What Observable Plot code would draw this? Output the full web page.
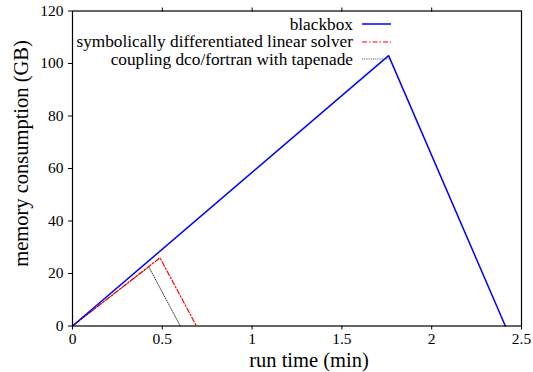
<!DOCTYPE html>
<html><head><meta charset="utf-8">
<script src="https://cdn.jsdelivr.net/npm/d3@7"></script>
<script src="https://cdn.jsdelivr.net/npm/@observablehq/plot@0.6"></script>
<style>
body{margin:0;background:#fff}
#c{position:relative;width:533px;height:372px;font-family:"Liberation Serif",serif}
#c svg, #c svg text{font-family:"Liberation Serif",serif}
#legend{position:absolute;top:15.5px;left:0;width:391px;font-size:17.3px;line-height:17.6px;color:#000}
#legend .row{display:flex;justify-content:flex-end;align-items:center;height:17.6px;white-space:nowrap}
#legend svg{margin-left:9px;flex:none}
</style>
</head><body><div id="c"></div><script>
// series data (run time in minutes, memory in GB)
const seriesNames = ["blackbox", "symbolically differentiated linear solver", "coupling dco/fortran with tapenade"];
const blackboxTime = [0, 1.76, 2.41];
const blackboxMem = [0, 103, 0];
const solverTime = [0, 0.487, 0.69];
const solverMem = [0, 26, 0];
const couplingTime = [0, 0.425, 0.6];
const couplingMem = [0, 22.5, 0];
const xTicks = [0, 0.5, 1, 1.5, 2, 2.5];
const yTicks = [0, 20, 40, 60, 80, 100, 120];
const xLabel = "run time (min)";
const yLabel = "memory consumption (GB)";

const styles = [
  {stroke: "#0000ff", strokeWidth: 1.5, dash: null},
  {stroke: "#ff0000", strokeWidth: 1.2, dash: "5,2,1.5,2"},
  {stroke: "#444444", strokeWidth: 1, dash: "1,1.2"}
];
const rows = (t, m) => t.map((d, i) => ({t: d, m: m[i]}));
const data = [rows(blackboxTime, blackboxMem), rows(solverTime, solverMem), rows(couplingTime, couplingMem)];

const lines = data.map((d, i) => Plot.line(d, {
  x: "t", y: "m", stroke: styles[i].stroke, strokeWidth: styles[i].strokeWidth,
  strokeDasharray: styles[i].dash, strokeLinejoin: "miter"
})).reverse();

const fmt = d => String(d);
const plot = Plot.plot({
  width: 533, height: 372,
  marginLeft: 72, marginRight: 12, marginTop: 10.5, marginBottom: 46.5,
  style: {fontSize: "15.5px", fontFamily: "Liberation Serif, serif", background: "#fff", color: "#000"},
  x: {domain: [0, 2.5]},
  y: {domain: [0, 120]},
  marks: [
    ...lines,
    Plot.frame({stroke: "#000", strokeWidth: 1.2}),
    Plot.axisX(xTicks, {anchor: "bottom", tickSize: 4, tickPadding: 3, tickFormat: fmt, label: null}),
    Plot.axisX(xTicks.slice(1, -1), {anchor: "top", tickSize: 4, tickFormat: () => "", label: null}),
    Plot.axisY(yTicks, {anchor: "left", tickSize: 4, tickPadding: 5, tickFormat: fmt, label: null}),
    Plot.text([xLabel], {text: d => d, frameAnchor: "bottom", textAnchor: "middle", lineAnchor: "bottom", dx: 12, dy: 41, fontSize: 20.5}),
    Plot.text([yLabel], {text: d => d, frameAnchor: "left", textAnchor: "middle", lineAnchor: "middle", rotate: -90, dx: -51, dy: -15, fontSize: 20.5})
  ]
});
const c = document.getElementById("c");
c.appendChild(plot);

const lg = document.createElement("div");
lg.id = "legend";
seriesNames.forEach((name, i) => {
  const r = document.createElement("div");
  r.className = "row";
  const s = document.createElement("span");
  s.textContent = name;
  r.appendChild(s);
  const svg = d3.create("svg").attr("width", 29).attr("height", 10);
  svg.append("line").attr("x1", 0).attr("x2", 29).attr("y1", 5).attr("y2", 5)
    .attr("stroke", styles[i].stroke).attr("stroke-width", styles[i].strokeWidth)
    .attr("stroke-dasharray", styles[i].dash);
  r.appendChild(svg.node());
  lg.appendChild(r);
});
c.appendChild(lg);
</script></body></html>
